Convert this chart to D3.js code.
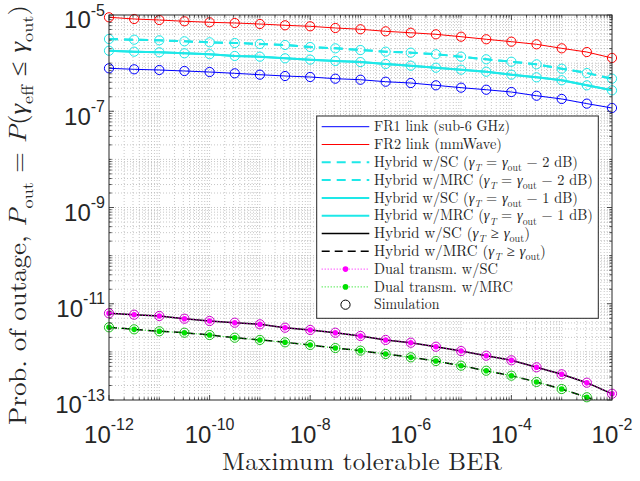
<!DOCTYPE html>
<html>
<head>
<meta charset="utf-8">
<script src="https://cdn.jsdelivr.net/npm/d3@7"></script>
<style>
  html, body { margin: 0; padding: 0; background: #fff; }
  svg { display: block; }
</style>
</head>
<body>
<svg id="chart" width="640" height="481"></svg>
<script>
// Maximum tolerable BER (x) at half-decade steps
const berValues = [1e-12, 3.16e-12, 1e-11, 3.16e-11, 1e-10, 3.16e-10, 1e-9, 3.16e-9, 1e-8, 3.16e-8,
  1e-7, 3.16e-7, 1e-6, 3.16e-6, 1e-5, 3.16e-5, 1e-4, 3.16e-4, 1e-3, 3.16e-3, 1e-2];

// Outage probability per scheme
const fr1Link = [7.81e-7, 7.44e-7, 7.20e-7, 6.86e-7, 6.54e-7, 6.14e-7, 5.75e-7, 5.40e-7, 5.15e-7, 4.75e-7,
  4.52e-7, 4.11e-7, 3.86e-7, 3.46e-7, 3.09e-7, 2.80e-7, 2.51e-7, 2.10e-7, 1.80e-7, 1.44e-7, 1.17e-7];
const fr2Link = [8.96e-6, 8.26e-6, 7.87e-6, 7.40e-6, 7.05e-6, 6.82e-6, 6.50e-6, 6.11e-6, 5.82e-6, 5.37e-6,
  5.05e-6, 4.58e-6, 4.28e-6, 3.97e-6, 3.54e-6, 3.13e-6, 2.79e-6, 2.46e-6, 2.03e-6, 1.70e-6, 1.28e-6];
const hybridSC2dB = [3.17e-6, 3.07e-6, 2.98e-6, 2.84e-6, 2.71e-6, 2.62e-6, 2.50e-6, 2.38e-6, 2.16e-6, 2.03e-6,
  1.87e-6, 1.73e-6, 1.65e-6, 1.53e-6, 1.36e-6, 1.20e-6, 1.07e-6, 9.45e-7, 7.66e-7, 6.23e-7, 4.75e-7];
const hybridMRC2dB = [3.17e-6, 3.07e-6, 2.98e-6, 2.84e-6, 2.71e-6, 2.62e-6, 2.50e-6, 2.38e-6, 2.16e-6, 2.03e-6,
  1.87e-6, 1.73e-6, 1.65e-6, 1.53e-6, 1.36e-6, 1.20e-6, 1.07e-6, 9.45e-7, 7.66e-7, 6.23e-7, 4.75e-7];
const hybridSC1dB = [1.81e-6, 1.73e-6, 1.68e-6, 1.60e-6, 1.53e-6, 1.41e-6, 1.36e-6, 1.26e-6, 1.18e-6, 1.11e-6,
  1.05e-6, 9.59e-7, 8.84e-7, 8.03e-7, 7.30e-7, 6.63e-7, 5.75e-7, 5.07e-7, 4.40e-7, 3.46e-7, 2.72e-7];
const hybridMRC1dB = [1.81e-6, 1.73e-6, 1.68e-6, 1.60e-6, 1.53e-6, 1.41e-6, 1.36e-6, 1.26e-6, 1.18e-6, 1.11e-6,
  1.05e-6, 9.59e-7, 8.84e-7, 8.03e-7, 7.30e-7, 6.63e-7, 5.75e-7, 5.07e-7, 4.40e-7, 3.46e-7, 2.72e-7];
const hybridSCgeq = [6.33e-12, 5.92e-12, 5.57e-12, 4.89e-12, 4.38e-12, 4.04e-12, 3.74e-12, 3.18e-12, 2.85e-12, 2.50e-12,
  2.14e-12, 1.77e-12, 1.55e-12, 1.28e-12, 1.04e-12, 8.33e-13, 6.68e-13, 4.78e-13, 3.42e-13, 2.29e-13, 1.35e-13];
const hybridMRCgeq = [3.24e-12, 2.94e-12, 2.68e-12, 2.50e-12, 2.24e-12, 1.97e-12, 1.77e-12, 1.58e-12, 1.39e-12, 1.20e-12,
  1.06e-12, 9.03e-13, 7.72e-13, 6.46e-13, 5.16e-13, 4.06e-13, 3.20e-13, 2.37e-13, 1.69e-13, 1.14e-13, 7.6e-14];
const dualSC = [6.33e-12, 5.92e-12, 5.57e-12, 4.89e-12, 4.38e-12, 4.04e-12, 3.74e-12, 3.18e-12, 2.85e-12, 2.50e-12,
  2.14e-12, 1.77e-12, 1.55e-12, 1.28e-12, 1.04e-12, 8.33e-13, 6.68e-13, 4.78e-13, 3.42e-13, 2.29e-13, 1.35e-13];
const dualMRC = [3.24e-12, 2.94e-12, 2.68e-12, 2.50e-12, 2.24e-12, 1.97e-12, 1.77e-12, 1.58e-12, 1.39e-12, 1.20e-12,
  1.06e-12, 9.03e-13, 7.72e-13, 6.46e-13, 5.16e-13, 4.06e-13, 3.20e-13, 2.37e-13, 1.69e-13, 1.14e-13, 7.6e-14];

// Tick labels (exponents of 10)
const xTickExponents = [-12, -10, -8, -6, -4, -2];
const yTickExponents = [-13, -11, -9, -7, -5];

const svg = d3.select("#chart");
const plot = { left: 109, top: 15, right: 612, bottom: 400 };

const x = d3.scaleLog().domain([1e-12, 1e-2]).range([plot.left, plot.right]);
const y = d3.scaleLog().domain([1e-13, 1e-5]).range([plot.bottom, plot.top]);

const axisColor = "#262626";
const sansFont = "'Liberation Sans', Arial, Helvetica, sans-serif";
const serifFont = "'Latin Modern Roman', 'Liberation Serif', 'Times New Roman', serif";

svg.append("defs").append("clipPath").attr("id", "plotClip")
  .append("rect")
  .attr("x", plot.left).attr("y", plot.top)
  .attr("width", plot.right - plot.left).attr("height", plot.bottom - plot.top);

// Minor/major positions on the log axes
function logTicks(lo, hi) {
  const out = [];
  for (let e = lo; e < hi; e++) {
    for (let k = 1; k <= 9; k++) out.push(k * Math.pow(10, e));
  }
  out.push(Math.pow(10, hi));
  return out;
}
const xAll = logTicks(-12, -2);
const yAll = logTicks(-13, -5);
const xMajor = xTickExponents.map(e => Math.pow(10, e));
const yMajor = yTickExponents.map(e => Math.pow(10, e));
const isMajor = (v, arr) => arr.some(m => Math.abs(Math.log10(v) - Math.log10(m)) < 1e-9);

// Grid
const grid = svg.append("g").attr("class", "grid");
grid.selectAll("line.gx").data(xAll.filter(v => v > 1e-12 && v < 1e-2)).join("line")
  .attr("x1", d => x(d)).attr("x2", d => x(d))
  .attr("y1", plot.top).attr("y2", plot.bottom)
  .attr("stroke", "#b8b8b8").attr("stroke-width", 0.8)
  .attr("stroke-dasharray", "1 2");
grid.selectAll("line.gy").data(yAll.filter(v => v > 1e-13 && v < 1e-5)).join("line")
  .attr("x1", plot.left).attr("x2", plot.right)
  .attr("y1", d => y(d)).attr("y2", d => y(d))
  .attr("stroke", "#b8b8b8").attr("stroke-width", 0.8)
  .attr("stroke-dasharray", "1 2");

// Series definitions
const cyan = "#1ee8e8";
const series = [
  { values: fr1Link, color: "#0000ff", width: 1, dash: null },
  { values: fr2Link, color: "#ff0000", width: 1, dash: null },
  { values: hybridSC2dB, color: cyan, width: 2, dash: "9 6" },
  { values: hybridMRC2dB, color: cyan, width: 2, dash: "9 6" },
  { values: hybridSC1dB, color: cyan, width: 2, dash: null },
  { values: hybridMRC1dB, color: cyan, width: 2, dash: null },
  { values: hybridSCgeq, color: "#000000", width: 1.5, dash: null },
  { values: hybridMRCgeq, color: "#000000", width: 1.5, dash: "8 5" },
  { values: dualSC, color: "#ff00ff", width: 1, dash: "1 2", dot: "#ff00ff" },
  { values: dualMRC, color: "#00e000", width: 1, dash: "1 2", dot: "#00e000" }
];

// Simulation markers, one set per curve
const simulation = [
  { values: fr1Link, color: "#0000ff" },
  { values: fr2Link, color: "#ff0000" },
  { values: hybridSC2dB, color: cyan },
  { values: hybridSC1dB, color: cyan },
  { values: dualSC, color: "#cc00cc" },
  { values: dualMRC, color: "#1cbf1c" }
];

const line = d3.line().x(d => x(d[0])).y(d => y(d[1]));
const curves = svg.append("g").attr("clip-path", "url(#plotClip)");

series.forEach(s => {
  const pts = berValues.map((b, i) => [b, s.values[i]]);
  curves.append("path").datum(pts)
    .attr("d", line).attr("fill", "none")
    .attr("stroke", s.color).attr("stroke-width", s.width)
    .attr("stroke-dasharray", s.dash);
});

const inside = v => v >= 1e-13 && v <= 1e-5;
const markers = svg.append("g");
series.filter(s => s.dot).forEach(s => {
  markers.selectAll(null).data(berValues.map((b, i) => [b, s.values[i]]).filter(d => inside(d[1])))
    .join("circle")
    .attr("cx", d => x(d[0])).attr("cy", d => y(d[1])).attr("r", 2.8)
    .attr("fill", s.dot);
});
simulation.forEach(s => {
  markers.selectAll(null).data(berValues.map((b, i) => [b, s.values[i]]).filter(d => inside(d[1])))
    .join("circle")
    .attr("cx", d => x(d[0])).attr("cy", d => y(d[1])).attr("r", 4.6)
    .attr("fill", "none").attr("stroke", s.color).attr("stroke-width", 1);
});

// Axes box and inward ticks on all four sides
const axes = svg.append("g");
axes.append("rect")
  .attr("x", plot.left).attr("y", plot.top)
  .attr("width", plot.right - plot.left).attr("height", plot.bottom - plot.top)
  .attr("fill", "none").attr("stroke", axisColor).attr("stroke-width", 1);

const xTickMarks = xAll.map(v => ({ v, len: isMajor(v, xMajor) ? 5 : 2.7 }));
const yTickMarks = yAll.map(v => ({ v, len: isMajor(v, yMajor) ? 5 : 2.7 }));
axes.selectAll(null).data(xTickMarks).join("line")
  .attr("x1", d => x(d.v)).attr("x2", d => x(d.v))
  .attr("y1", plot.bottom).attr("y2", d => plot.bottom - d.len)
  .attr("stroke", axisColor).attr("stroke-width", 0.8);
axes.selectAll(null).data(xTickMarks).join("line")
  .attr("x1", d => x(d.v)).attr("x2", d => x(d.v))
  .attr("y1", plot.top).attr("y2", d => plot.top + d.len)
  .attr("stroke", axisColor).attr("stroke-width", 0.8);
axes.selectAll(null).data(yTickMarks).join("line")
  .attr("y1", d => y(d.v)).attr("y2", d => y(d.v))
  .attr("x1", plot.left).attr("x2", d => plot.left + d.len)
  .attr("stroke", axisColor).attr("stroke-width", 0.8);
axes.selectAll(null).data(yTickMarks).join("line")
  .attr("y1", d => y(d.v)).attr("y2", d => y(d.v))
  .attr("x1", plot.right).attr("x2", d => plot.right - d.len)
  .attr("stroke", axisColor).attr("stroke-width", 0.8);

// Tick labels 10^n
xTickExponents.forEach(e => {
  const t = axes.append("text")
    .attr("x", x(Math.pow(10, e))).attr("y", 442.7)
    .attr("text-anchor", "middle").attr("font-family", sansFont)
    .attr("fill", axisColor);
  t.append("tspan").attr("font-size", 24).text("10");
  t.append("tspan").attr("font-size", 16).attr("dy", -12.7).text("-" + Math.abs(e));
});
yTickExponents.forEach(e => {
  const t = axes.append("text")
    .attr("x", 105).attr("y", y(Math.pow(10, e)) + 13.3)
    .attr("text-anchor", "end").attr("font-family", sansFont)
    .attr("fill", axisColor);
  t.append("tspan").attr("font-size", 24).text("10");
  t.append("tspan").attr("font-size", 16).attr("dy", -12.7).text("-" + Math.abs(e));
});

// Rich text helper: parts are [text, style] with style in {"", "i", "sub", "subi"}
function richText(sel, parts, size) {
  let shift = 0;
  parts.forEach(([txt, st]) => {
    const ts = sel.append("tspan").text(txt);
    const isSub = st === "sub" || st === "subi";
    const target = isSub ? size * 0.28 : 0;
    if (target !== shift) { ts.attr("dy", target - shift); shift = target; }
    ts.attr("font-size", isSub ? size * 0.68 : size);
    if (st === "i" || st === "subi") ts.attr("font-style", "italic");
  });
}

// Stretch a text horizontally (about its anchor x) to a given rendered width
function fitWidth(textSel, anchorX, width) {
  const w = textSel.node().getBBox().width;
  if (w > 0) {
    const k = width / w;
    textSel.attr("transform", `translate(${anchorX},0) scale(${k},1) translate(${-anchorX},0)`);
  }
}

// Axis titles
svg.append("text")
  .attr("x", (plot.left + plot.right) / 2 + 1.5).attr("y", 470)
  .attr("text-anchor", "middle").attr("font-family", serifFont)
  .attr("fill", axisColor).attr("font-size", 25)
  .attr("textLength", 280).attr("lengthAdjust", "spacing")
  .text("Maximum tolerable BER");

const yTitle = svg.append("text")
  .attr("text-anchor", "middle").attr("font-family", serifFont)
  .attr("fill", axisColor);
richText(yTitle, [
  ["Prob. of outage, ", ""], ["P", "i"], ["out", "sub"], [" = ", ""], ["P", "i"], ["(", ""],
  ["γ", "i"], ["eff", "sub"], [" ≤ ", ""], ["γ", "i"], ["out", "sub"], [")", ""]
], 24);
{
  const w = yTitle.node().getBBox().width;
  const k = w > 0 ? 420 / w : 1;
  yTitle.attr("transform", `translate(26,215) rotate(-90) scale(${k},1)`);
}

// Legend
const legendEntries = [
  { parts: [["FR1 link (sub-6 GHz)", ""]], color: "#0000ff", width: 1, dash: null },
  { parts: [["FR2 link (mmWave)", ""]], color: "#ff0000", width: 1, dash: null },
  { parts: [["Hybrid w/SC (", ""], ["γ", "i"], ["T", "subi"], [" = ", ""], ["γ", "i"], ["out", "sub"], [" − 2 dB)", ""]], color: cyan, width: 2, dash: "9 6" },
  { parts: [["Hybrid w/MRC (", ""], ["γ", "i"], ["T", "subi"], [" = ", ""], ["γ", "i"], ["out", "sub"], [" − 2 dB)", ""]], color: cyan, width: 2, dash: "9 6" },
  { parts: [["Hybrid w/SC (", ""], ["γ", "i"], ["T", "subi"], [" = ", ""], ["γ", "i"], ["out", "sub"], [" − 1 dB)", ""]], color: cyan, width: 2, dash: null },
  { parts: [["Hybrid w/MRC (", ""], ["γ", "i"], ["T", "subi"], [" = ", ""], ["γ", "i"], ["out", "sub"], [" − 1 dB)", ""]], color: cyan, width: 2, dash: null },
  { parts: [["Hybrid w/SC (", ""], ["γ", "i"], ["T", "subi"], [" ≥ ", ""], ["γ", "i"], ["out", "sub"], [")", ""]], color: "#000000", width: 1.5, dash: null },
  { parts: [["Hybrid w/MRC (", ""], ["γ", "i"], ["T", "subi"], [" ≥ ", ""], ["γ", "i"], ["out", "sub"], [")", ""]], color: "#000000", width: 1.5, dash: "8 5" },
  { parts: [["Dual transm. w/SC", ""]], color: "#ff00ff", width: 1, dash: "1 2", dot: "#ff00ff" },
  { parts: [["Dual transm. w/MRC", ""]], color: "#00e000", width: 1, dash: "1 2", dot: "#00e000" },
  { parts: [["Simulation", ""]], circle: true }
];
// Rendered width of each legend label
const legendTextWidths = [136, 128, 204, 219, 204, 219, 156, 172, 124, 139, 66];

const legend = svg.append("g");
legend.append("rect")
  .attr("x", 316.7).attr("y", 116).attr("width", 281.6).attr("height", 202.3)
  .attr("fill", "#fff").attr("stroke", axisColor).attr("stroke-width", 1);

legendEntries.forEach((entry, i) => {
  const cy = 126.7 + i * 17.8;
  if (entry.circle) {
    legend.append("circle").attr("cx", 345.5).attr("cy", cy).attr("r", 4.6)
      .attr("fill", "none").attr("stroke", "#000").attr("stroke-width", 1);
  } else {
    legend.append("line")
      .attr("x1", 321.7).attr("x2", 369.3).attr("y1", cy).attr("y2", cy)
      .attr("stroke", entry.color).attr("stroke-width", entry.width)
      .attr("stroke-dasharray", entry.dash);
    if (entry.dot) {
      legend.append("circle").attr("cx", 345.5).attr("cy", cy).attr("r", 2.8).attr("fill", entry.dot);
    }
  }
  const t = legend.append("text")
    .attr("x", 374).attr("y", cy + 4.8)
    .attr("font-family", serifFont).attr("fill", axisColor);
  richText(t, entry.parts, 15);
  fitWidth(t, 374, legendTextWidths[i]);
});
</script>
</body>
</html>
